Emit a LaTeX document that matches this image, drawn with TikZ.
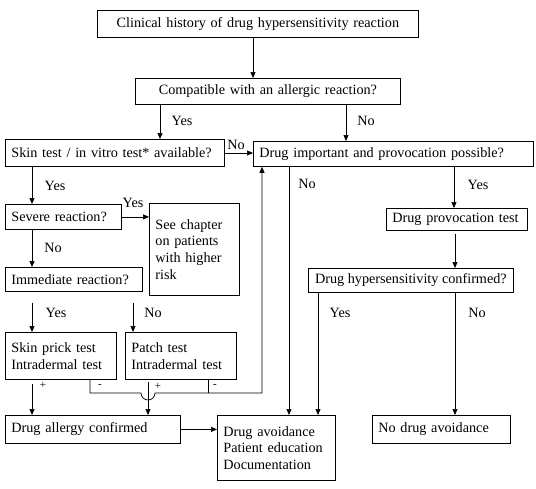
\documentclass[tikz,border=0pt]{standalone}
\usepackage{fontspec}
\setmainfont{Liberation Serif}
\usetikzlibrary{arrows.meta}

\begin{document}
\begin{tikzpicture}[
    x=1pt, y=-1pt,
    every node/.style={font=\fontsize{14.2}{16.7}\selectfont},
    box/.style={rectangle, draw, line width=0.8pt, anchor=north west, inner xsep=6pt, inner ysep=2pt, align=left},
    cbox/.style={box, align=center},
    lbl/.style={inner sep=0pt},
    sign/.style={inner sep=0pt, font=\fontsize{11}{12}\selectfont},
    arr/.style={-{Triangle[length=6pt,width=5pt]}, line width=0.7pt},
    wire/.style={line width=0.7pt}
]
    \useasboundingbox (0,0) rectangle (536,488);

    % Top of the chart
    \node[cbox, text width=309pt, minimum height=27pt] (history) at (97,10) {Clinical history of drug hypersensitivity reaction};
    \node[cbox, text width=253pt, minimum height=26pt] (compat) at (135,78) {Compatible with an allergic reaction?};

    % Left branch
    \node[box, text width=207pt, minimum height=27pt] (skintest) at (5,139) {Skin test / in vitro test* available?};
    \node[box, text width=104pt, minimum height=25pt] (severe) at (5,204) {Severe reaction?};
    \node[box, text width=78pt, minimum height=92pt] (chapter) at (149,203) {See chapter\\on patients\\with higher\\risk};
    \node[box, text width=125pt, minimum height=24pt] (immediate) at (5,267) {Immediate reaction?};
    \node[box, text width=99pt, minimum height=47pt] (prick) at (5,332) {Skin prick test\\Intradermal test};
    \node[box, text width=99pt, minimum height=47pt] (patch) at (125,332) {Patch test\\Intradermal test};
    \node[box, text width=163pt, minimum height=28pt] (allergy) at (5,415) {Drug allergy confirmed};

    % Right branch
    \node[box, text width=268pt, minimum height=25pt] (important) at (253,141) {Drug important and provocation possible?};
    \node[box, text width=129pt, minimum height=22pt] (provoc) at (386,208) {Drug provocation test};
    \node[box, inner xsep=2pt, minimum width=205pt, minimum height=24pt] (confirmed) at (308,268) {Drug hypersensitivity confirmed?};
    \node[box, text width=106pt, minimum height=65pt] (avoid) at (217,415) {Drug avoidance\\Patient education\\Documentation};
    \node[box, text width=126pt, minimum height=28pt] (noavoid) at (372,415) {No drug avoidance};

    % Labels
    \node[lbl] (yesA) at (182,121) {Yes};
    \node[lbl] (noA) at (366,121) {No};
    \node[lbl] (noB) at (236,145) {No};
    \node[lbl] (yesB) at (55,186) {Yes};
    \node[lbl] (yesC) at (133,203) {Yes};
    \node[lbl] (noC) at (53,248) {No};
    \node[lbl] (yesD) at (56,313) {Yes};
    \node[lbl] (noD) at (153,313) {No};
    \node[sign] (plusA) at (43,385) {+};
    \node[sign] (minusA) at (100,386) {-};
    \node[sign] (plusB) at (158,386) {+};
    \node[sign] (minusB) at (215,386) {-};
    \node[lbl] (noE) at (307,184) {No};
    \node[lbl] (yesE) at (478,185) {Yes};
    \node[lbl] (yesF) at (340,313) {Yes};
    \node[lbl] (noF) at (477,313) {No};

    % Arrows
    \draw[arr] (history.south -| 253,0) -- (compat.north -| 253,0);
    \draw[arr] (compat.south -| 160,0) -- (skintest.north -| 160,0);
    \draw[arr] (compat.south -| 346,0) -- (important.north -| 346,0);
    \draw[arr] (skintest.east |- 0,153) -- (important.west |- 0,153);
    \draw[arr] (skintest.south -| 32,0) -- (severe.north -| 32,0);
    \draw[arr] (severe.east) -- (severe.east -| chapter.west);
    \draw[arr] (severe.south -| 32,0) -- (immediate.north -| 32,0);
    \draw[arr, shorten <=11pt] (immediate.south -| 32,0) -- (prick.north -| 32,0);
    \draw[arr, shorten <=11pt] (immediate.south -| 133,0) -- (patch.north -| 133,0);
    \draw[arr, shorten <=4pt] (prick.south -| 32,0) -- (allergy.north -| 32,0);
    \draw[arr, shorten <=2pt] (patch.south -| 148,0) -- (allergy.north -| 148,0);
    \draw[arr] (prick.south -| 90,0) -- (90,393) -- (141,393)
        arc[start angle=180, end angle=360, radius=7pt] -- (262,393) -- (important.south -| 262,0);
    \draw[wire] (patch.south -| 208,0) -- (208,393);
    \draw[arr] (allergy.east) -- (allergy.east -| avoid.west);
    \draw[arr] (important.south -| 289,0) -- (avoid.north -| 289,0);
    \draw[arr] (important.south -| 454,0) -- (provoc.north -| 454,0);
    \draw[arr, shorten <=3pt] (provoc.south -| 455,0) -- (confirmed.north -| 455,0);
    \draw[arr] (confirmed.south -| 318,0) -- (avoid.north -| 318,0);
    \draw[arr] (confirmed.south -| 455,0) -- (noavoid.north -| 455,0);
\end{tikzpicture}
\end{document}
